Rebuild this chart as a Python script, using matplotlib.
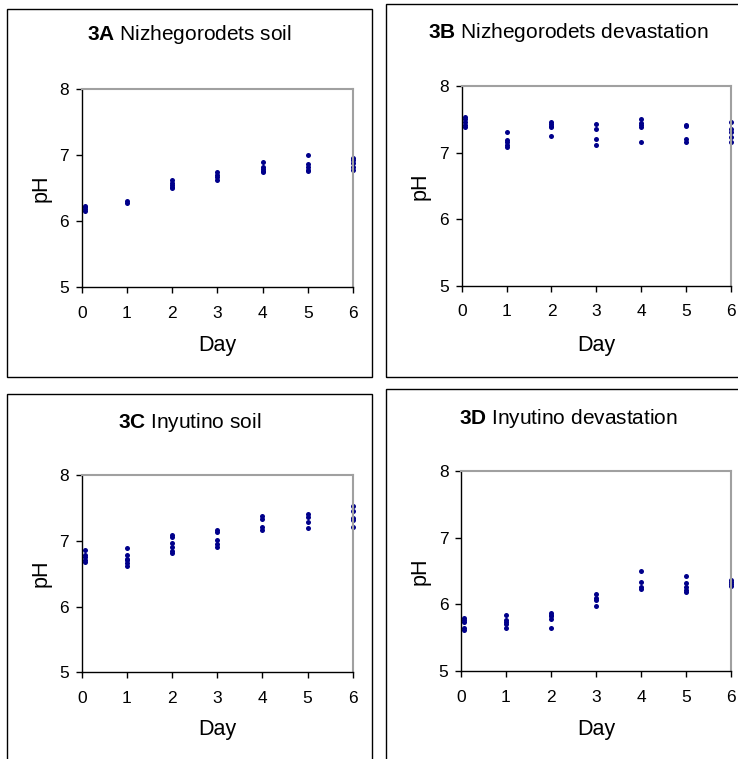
import matplotlib
matplotlib.use("Agg")
import matplotlib.pyplot as plt
from matplotlib.patches import Rectangle

plt.rcParams["font.family"] = ["Liberation Sans", "DejaVu Sans"]
plt.rcParams["mathtext.fontset"] = "custom"
plt.rcParams["mathtext.rm"] = "Liberation Sans"
plt.rcParams["mathtext.bf"] = "Liberation Sans:bold"

W, H = 738, 759
DPI = 100
DOT = "#00008b"

# pH readings per sampling day (replicates stacked at each day)
days = [0.07, 1, 2, 3, 4, 5, 6]

ph_3a = [
    [6.15, 6.18, 6.21, 6.23],
    [6.28, 6.30],
    [6.50, 6.52, 6.55, 6.58, 6.62],
    [6.62, 6.66, 6.70, 6.74],
    [6.74, 6.76, 6.79, 6.82, 6.90],
    [6.76, 6.78, 6.82, 6.86, 7.00],
    [6.78, 6.82, 6.88, 6.92, 6.96],
]
ph_3b = [
    [7.39, 7.42, 7.46, 7.50, 7.54],
    [7.09, 7.12, 7.16, 7.19, 7.31],
    [7.25, 7.38, 7.40, 7.43, 7.46],
    [7.12, 7.20, 7.36, 7.43],
    [7.16, 7.39, 7.42, 7.44, 7.51],
    [7.16, 7.20, 7.40, 7.42],
    [7.16, 7.24, 7.31, 7.36, 7.46],
]
ph_3c = [
    [6.67, 6.71, 6.75, 6.79, 6.86],
    [6.62, 6.66, 6.70, 6.73, 6.79, 6.89],
    [6.82, 6.85, 6.91, 6.96, 7.05, 7.09],
    [6.90, 6.95, 7.01, 7.13, 7.16],
    [7.16, 7.21, 7.33, 7.37],
    [7.20, 7.28, 7.36, 7.40],
    [7.21, 7.31, 7.34, 7.46, 7.53],
]
ph_3d = [
    [5.61, 5.64, 5.73, 5.76, 5.79],
    [5.65, 5.71, 5.73, 5.77, 5.84],
    [5.65, 5.78, 5.82, 5.84, 5.87],
    [5.98, 6.06, 6.09, 6.16],
    [6.23, 6.26, 6.34, 6.50],
    [6.19, 6.22, 6.26, 6.32, 6.42],
    [6.27, 6.30, 6.33, 6.37],
]

panels = [
    ("3A", "Nizhegorodets soil", ph_3a),
    ("3B", "Nizhegorodets devastation", ph_3b),
    ("3C", "Inyutino soil", ph_3c),
    ("3D", "Inyutino devastation", ph_3d),
]

# pixel layout: frame box, plot box, title y, xlabel y, ylabel x
layout = [
    dict(frame=(7, 9, 372, 377), plot=(81.7, 89, 353, 287), ty=35, dy=345, px=41),
    dict(frame=(386, 4, 750, 377), plot=(461.7, 86, 731, 285.7), ty=32, dy=345, px=420),
    dict(frame=(7, 394, 372, 790), plot=(81.7, 475, 352.7, 672.3), ty=422, dy=730, px=41),
    dict(frame=(386, 389, 750, 790), plot=(461, 471, 731, 671), ty=418, dy=730, px=420),
]


def fx(x):
    return x / W


def fy(y):
    return 1 - y / H


fig = plt.figure(figsize=(W / DPI, H / DPI), dpi=DPI)

for (tag, name, vals), lay in zip(panels, layout):
    x0, y0, x1, y1 = lay["frame"]
    fig.patches.append(Rectangle((fx(x0), fy(y1)), fx(x1 - x0), (y1 - y0) / H,
                                 transform=fig.transFigure, fill=False,
                                 edgecolor="black", linewidth=1.0))

    px0, py0, px1, py1 = lay["plot"]
    ax = fig.add_axes([fx(px0), fy(py1), fx(px1 - px0), (py1 - py0) / H])
    for d, reps in zip(days, vals):
        ax.plot([d] * len(reps), reps, "o", color=DOT, markersize=3.6,
                markeredgewidth=0, clip_on=False)

    ax.set_xlim(0, 6)
    ax.set_ylim(5, 8)
    ax.set_xticks(range(7))
    ax.set_yticks([5, 6, 7, 8])
    ax.tick_params(direction="out", length=4, width=1, labelsize=12.5, color="black")
    ax.tick_params(axis="x", pad=9.5)
    ax.tick_params(axis="y", pad=5)
    for s in ("left", "bottom"):
        ax.spines[s].set_color("black")
        ax.spines[s].set_linewidth(1.0)
    for s in ("top", "right"):
        ax.spines[s].set_color("#a0a0a0")
        ax.spines[s].set_linewidth(1.5)

    fig.text(fx((x0 + x1) / 2), fy(lay["ty"]), r"$\mathbf{%s}$ %s" % (tag, name),
             ha="center", va="center", fontsize=15)
    fig.text(fx((px0 + px1) / 2), fy(lay["dy"]), "Day", ha="center", va="center",
             fontsize=15.5)
    fig.text(fx(lay["px"]), fy((py0 + py1) / 2), "pH", ha="center", va="center",
             rotation=90, fontsize=15.5)

fig.savefig("out.png", dpi=DPI)
